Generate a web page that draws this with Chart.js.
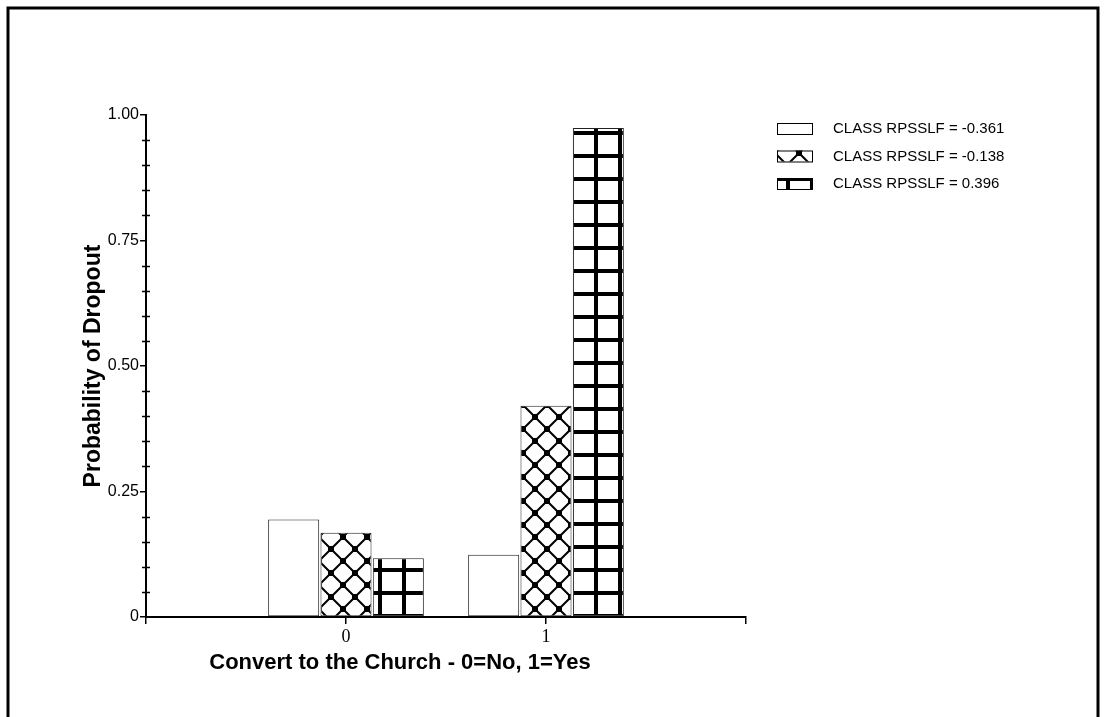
<!DOCTYPE html>
<html>
<head>
<meta charset="utf-8">
<title>Probability of Dropout</title>
<script src="https://cdn.jsdelivr.net/npm/chart.js@4.4.1/dist/chart.umd.min.js"></script>
<style>
  html, body { margin: 0; padding: 0; background: #fff; }
  #dropout-chart { display: block; }
</style>
</head>
<body>
<canvas id="dropout-chart" width="1107" height="717"></canvas>
<script>
'use strict';

// category values on the x axis
var categories = ['0', '1'];
var seriesNames = ['CLASS RPSSLF = -0.361', 'CLASS RPSSLF = -0.138', 'CLASS RPSSLF = 0.396'];
// dropout probability per class, one entry per category
var lowClass = [0.194, 0.124];
var midClass = [0.168, 0.421];
var highClass = [0.117, 0.974];
var yTicks = [0, 0.25, 0.5, 0.75, 1];
var yMinorStep = 0.05;

var SANS = "'Liberation Sans', Arial, sans-serif";
var SERIF = "'Liberation Serif', 'Times New Roman', serif";

function crossHatch() {
    var c = document.createElement('canvas');
    c.width = 24; c.height = 24;
    var g = c.getContext('2d');
    g.fillStyle = '#fff';
    g.fillRect(0, 0, 24, 24);
    g.strokeStyle = '#000';
    g.lineWidth = 2;
    g.beginPath();
    g.moveTo(0, 0); g.lineTo(24, 24);
    g.moveTo(24, 0); g.lineTo(0, 24);
    g.stroke();
    g.fillStyle = '#000';
    [[0, 0], [24, 0], [0, 24], [24, 24], [12, 12]].forEach(p => g.fillRect(p[0] - 3, p[1] - 3, 6, 6));
    var pat = g.createPattern(c, 'repeat');
    pat.setTransform(new DOMMatrix().translate(7, 9));
    return pat;
}

function gridHatch() {
    var c = document.createElement('canvas');
    c.width = 24; c.height = 23;
    var g = c.getContext('2d');
    g.fillStyle = '#fff';
    g.fillRect(0, 0, 24, 23);
    g.fillStyle = '#000';
    g.fillRect(18, 0, 4, 23);
    g.fillRect(0, 16, 24, 4);
    return g.createPattern(c, 'repeat');
}

// pad the axis with an empty slot on each side so the categories sit at 1/3 and 2/3
function padded(arr) {
    return [null].concat(arr, [null]);
}

var fills = ['#ffffff', crossHatch(), gridHatch()];

var extras = {
    id: 'extras',
    afterDraw(chart) {
        var ctx = chart.ctx;
        var y = chart.scales.y;
        var area = chart.chartArea;
        ctx.save();

        // outer frame
        ctx.strokeStyle = '#000';
        ctx.lineWidth = 3;
        ctx.beginPath();
        ctx.moveTo(8, 717); ctx.lineTo(8, 8); ctx.lineTo(1098, 8); ctx.lineTo(1098, 717);
        ctx.stroke();

        // minor ticks on the y axis
        ctx.lineWidth = 1.5;
        ctx.beginPath();
        for (var v = yMinorStep; v < 1; v += yMinorStep) {
            var r = Math.round(v * 100) / 100;
            if (yTicks.indexOf(r) !== -1) continue;
            var py = Math.round(y.getPixelForValue(r)) + 0.5;
            ctx.moveTo(area.left - 4, py);
            ctx.lineTo(area.left + 4, py);
        }
        ctx.stroke();

        // legend
        ctx.font = '15px ' + SANS;
        ctx.textBaseline = 'middle';
        chart.data.datasets.forEach((ds, i) => {
            var top = 123 + i * 27.5;
            ctx.fillStyle = ds.backgroundColor;
            ctx.fillRect(777, top, 35, 11);
            ctx.strokeStyle = '#000';
            ctx.lineWidth = 1;
            ctx.strokeRect(777.5, top + 0.5, 35, 11);
            ctx.fillStyle = '#000';
            ctx.fillText(ds.label, 833, top + 6);
        });

        // x axis title
        ctx.font = 'bold 22px ' + SANS;
        ctx.textAlign = 'center';
        ctx.fillText('Convert to the Church - 0=No, 1=Yes', 400, 663);
        ctx.restore();
    }
};

var chart = new Chart(document.getElementById('dropout-chart'), {
    type: 'bar',
    data: {
        labels: padded(categories).map(c => c === null ? '' : c),
        datasets: [lowClass, midClass, highClass].map((vals, i) => ({
            label: seriesNames[i],
            data: padded(vals),
            backgroundColor: fills[i],
            borderColor: '#222',
            borderWidth: 1,
            borderSkipped: false,
            categoryPercentage: 0.785,
            barPercentage: 0.975
        }))
    },
    options: {
        responsive: false,
        devicePixelRatio: 1,
        animation: false,
        events: [],
        layout: { padding: { left: 0, top: 115, right: 361, bottom: 0 } },
        plugins: {
            legend: { display: false },
            tooltip: { enabled: false }
        },
        scales: {
            x: {
                offset: false,
                grid: { offset: false, drawOnChartArea: false, tickLength: 7, color: '#000', lineWidth: 1.5 },
                border: { color: '#000', width: 2 },
                ticks: { color: '#000', padding: 2, maxRotation: 0, autoSkip: false, font: { family: SERIF, size: 18 } },
                afterFit(scale) { scale.height = 100; }
            },
            y: {
                min: 0,
                max: 1,
                afterBuildTicks(scale) { scale.ticks = yTicks.map(v => ({ value: v })); },
                grid: { drawOnChartArea: false, tickLength: 6, color: '#000', lineWidth: 1.5 },
                border: { color: '#000', width: 2 },
                ticks: {
                    color: '#000',
                    padding: 1,
                    font: { family: SANS, size: 16 },
                    callback: v => v === 0 ? '0' : v.toFixed(2)
                },
                title: {
                    display: true,
                    text: 'Probability of Dropout',
                    color: '#000',
                    font: { family: SANS, size: 23, weight: 'bold' },
                    padding: { top: 80, bottom: 0 }
                },
                afterFit(scale) { scale.width = 146; }
            }
        }
    },
    plugins: [extras]
});
</script>
</body>
</html>
